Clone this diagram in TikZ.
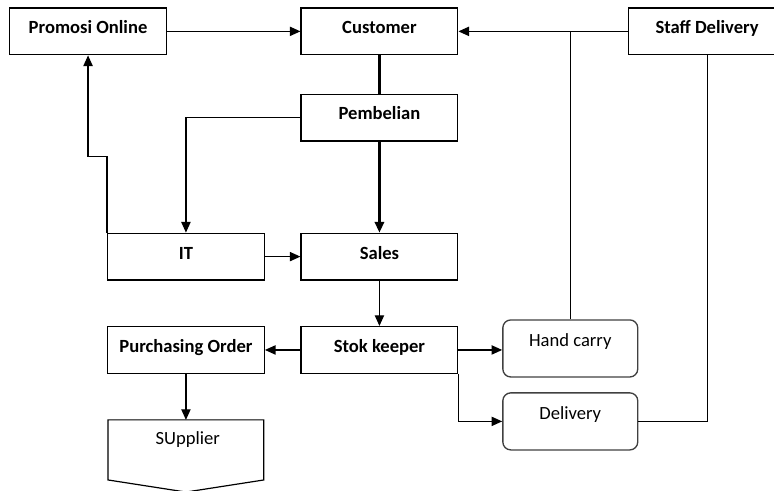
\documentclass[tikz,border=0pt]{standalone}
\usepackage{fontspec}
\setmainfont{Carlito}
\usetikzlibrary{arrows.meta}

\tikzset{
    box/.style={draw, line width=0.9pt, minimum width=4.15cm, minimum height=1.24cm,
        inner sep=0pt, font=\fontsize{14}{16}\selectfont\bfseries,
        text height=10pt, text depth=6.3pt},
    roundbox/.style={draw=black!75, line width=1pt, rounded corners=6pt,
        minimum width=3.57cm, minimum height=1.51cm, inner sep=0pt,
        font=\fontsize{14}{16}\selectfont, text height=9pt, text depth=11.3pt},
    flow/.style={line width=0.9pt, -{Triangle[length=8pt,width=7pt]}},
    plainline/.style={line width=0.9pt},
    heavy/.style={line width=1.6pt}
}

\begin{document}
\begin{tikzpicture}
        \useasboundingbox (0, 0) rectangle (20.48, -12.99);

        \newcommand{\supwidth}{4.12}

        \node [box] (promosi) at (2.33, -0.83) {Promosi Online};
        \node [box] (customer) at (10.04, -0.83) {Customer};
        \node [box] (staff) at (18.71, -0.83) {Staff Delivery};
        \node [box] (pembelian) at (10.04, -3.11) {Pembelian};
        \node [box] (it) at (4.92, -6.79) {IT};
        \node [box] (sales) at (10.04, -6.79) {Sales};
        \node [box] (purchasing) at (4.92, -9.26) {Purchasing Order};
        \node [box] (stok) at (10.04, -9.26) {Stok keeper};
        \node [roundbox] (hand) at (15.09, -9.22) {Hand carry};
        \node [roundbox] (delivery) at (15.09, -11.15) {Delivery};

        % supplier (off-page connector)
        \coordinate (S1) at (4.92 - \supwidth / 2, -11.11);
        \coordinate (S2) at (4.92 + \supwidth / 2, -11.11);
        \coordinate (S3) at (4.92 + \supwidth / 2, -12.70);
        \coordinate (S4) at (4.92, -13.02);
        \coordinate (S5) at (4.92 - \supwidth / 2, -12.70);
        \coordinate (supplier) at (4.92, -11.11);
        \draw [line width=0.9pt] (S1) -- (S2) -- (S3) -- (S4) -- (S5) -- cycle;
        \node [font=\fontsize{14}{16}\selectfont] (suppliertext) at (4.97, -11.64) {SUpplier};

        \draw [flow] (promosi) -- (customer);
        \draw [flow] (staff) -- (customer);
        \draw [plainline] (hand.north) -- (hand.north |- staff.west);
        \draw [plainline] (staff.south) |- (delivery.east);

        \draw [heavy] (customer) -- (pembelian);
        \draw [heavy, -{Triangle[length=8pt,width=7pt]}] (pembelian) -- (sales);
        \draw [flow] (pembelian.west) -| (it.north);
        \draw [flow] (it.north west) -- ++ (0, 2.01) -| (promosi.south);
        \draw [flow] (it) -- (sales);

        \draw [flow] (sales) -- (stok);
        \draw [flow] (stok) -- (purchasing);
        \draw [flow] (purchasing) -- (supplier);
        \draw [flow] (stok.east) -- (stok.east -| hand.west);
        \draw [flow] (stok.south east) |- (delivery.west);

    \end{tikzpicture}
\end{document}
